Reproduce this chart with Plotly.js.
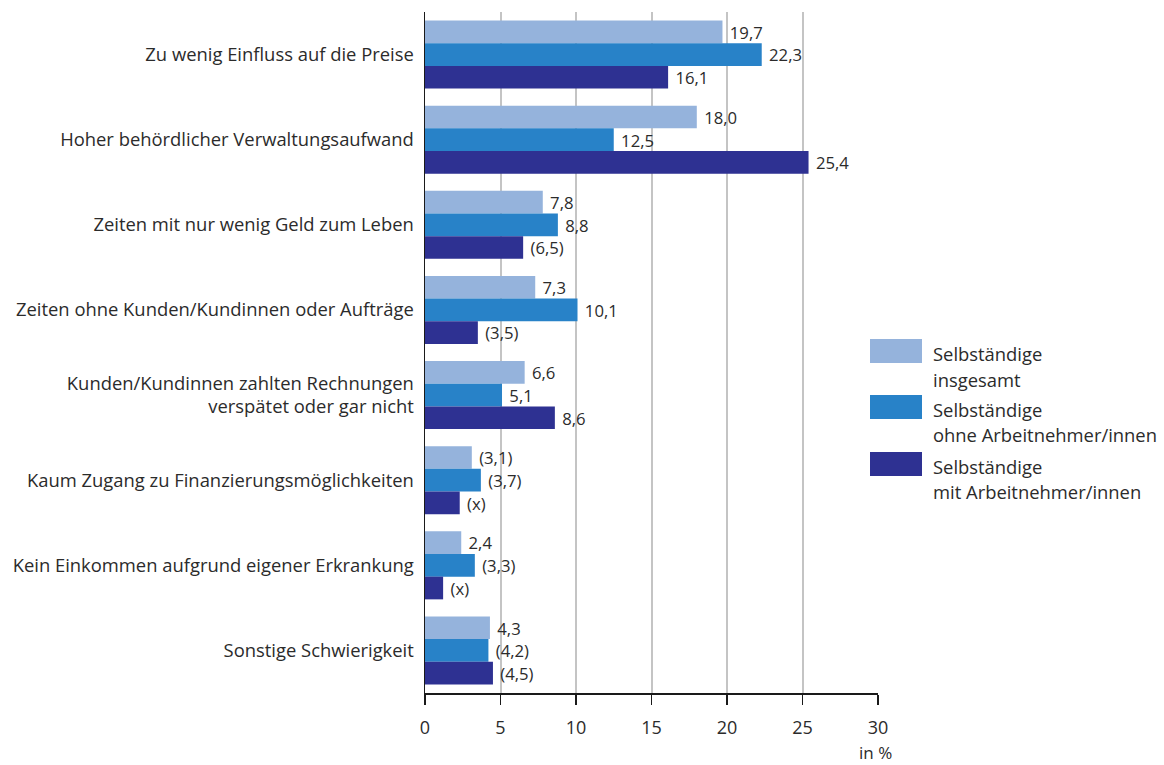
<!DOCTYPE html>
<html>
<head>
<meta charset="utf-8">
<script src="https://cdn.plot.ly/plotly-3.0.1.min.js"></script>
<style>
  html, body { margin: 0; padding: 0; background: #ffffff; }
  #chart { width: 1164px; height: 765px; }
</style>
</head>
<body>
<div id="chart"></div>
<script>
// Schwierigkeiten in der Selbständigkeit, Anteile in %
const categories = [
  "Zu wenig Einfluss auf die Preise",
  "Hoher behördlicher Verwaltungsaufwand",
  "Zeiten mit nur wenig Geld zum Leben",
  "Zeiten ohne Kunden/Kundinnen oder Aufträge",
  "Kunden/Kundinnen zahlten Rechnungen<br>verspätet oder gar nicht",
  "Kaum Zugang zu Finanzierungsmöglichkeiten",
  "Kein Einkommen aufgrund eigener Erkrankung",
  "Sonstige Schwierigkeit"
];

const seriesNames = [
  "Selbständige<br>insgesamt",
  "Selbständige<br>ohne Arbeitnehmer/innen",
  "Selbständige<br>mit Arbeitnehmer/innen"
];

const insgesamt       = [19.7, 18.0, 7.8, 7.3, 6.6, 3.1, 2.4, 4.3];
const ohneAN          = [22.3, 12.5, 8.8, 10.1, 5.1, 3.7, 3.3, 4.2];
const mitAN           = [16.1, 25.4, 6.5, 3.5, 8.6, 2.3, 1.2, 4.5];

const insgesamtLabels = ["19,7", "18,0", "7,8", "7,3", "6,6", "(3,1)", "2,4", "4,3"];
const ohneANLabels    = ["22,3", "12,5", "8,8", "10,1", "5,1", "(3,7)", "(3,3)", "(4,2)"];
const mitANLabels     = ["16,1", "25,4", "(6,5)", "(3,5)", "8,6", "(x)", "(x)", "(4,5)"];

const colors = ["#95b3dc", "#2882c8", "#2e3192"];
const textColor = "#2b2b2b";
const fontFamily = "'Open Sans', 'Noto Sans', sans-serif";
const fontSize = 18.4;

const seriesValues = [insgesamt, ohneAN, mitAN];
const seriesLabels = [insgesamtLabels, ohneANLabels, mitANLabels];

const traces = seriesValues.map((vals, i) => ({
  type: "bar",
  orientation: "h",
  name: seriesNames[i],
  y: categories,
  x: vals,
  text: seriesLabels[i],
  texttemplate: "\u00a0%{text}",
  textposition: "outside",
  cliponaxis: false,
  textfont: { family: fontFamily, size: fontSize, color: textColor },
  marker: { color: colors[i], line: { width: 0 } },
  hoverinfo: "skip",
  showlegend: false
}));

// Plot area in pixels, used to place the hand-drawn legend in paper units
const plotLeft = 425, plotRight = 878, plotTop = 12, plotBottom = 693;
const px = x => (x - plotLeft) / (plotRight - plotLeft);
const py = y => (plotBottom - y) / (plotBottom - plotTop);

// Legend: colour swatch plus a two-line caption per series
const legendShapes = [];
const legendNotes = [];
const swatchTop = [339, 395, 452];
seriesNames.forEach((name, i) => {
  legendShapes.push({
    type: "rect", xref: "paper", yref: "paper",
    x0: px(870), x1: px(922),
    y0: py(swatchTop[i] + 24), y1: py(swatchTop[i]),
    fillcolor: colors[i], line: { width: 0 }
  });
  name.split("<br>").forEach((line, j) => {
    legendNotes.push({
      xref: "paper", yref: "paper",
      x: px(931), y: py(swatchTop[i] + 14 + 26 * j),
      xanchor: "left", yanchor: "middle", align: "left",
      text: line, showarrow: false,
      font: { family: fontFamily, size: fontSize, color: textColor }
    });
  });
});

// Unit note under the right end of the x axis
legendNotes.push({
  xref: "paper", yref: "paper",
  x: px(893), y: 0, yshift: -72,
  xanchor: "right", yanchor: "bottom",
  borderpad: 0,
  text: "in %", showarrow: false,
  font: { family: fontFamily, size: 17, color: textColor }
});

const layout = {
  width: 1164,
  height: 765,
  margin: { l: plotLeft, r: 1164 - plotRight, t: plotTop, b: 765 - plotBottom, pad: 0 },
  paper_bgcolor: "#ffffff",
  plot_bgcolor: "#ffffff",
  barmode: "group",
  bargap: 0.2,
  bargroupgap: 0,
  showlegend: false,
  font: { family: fontFamily, size: fontSize, color: textColor },
  xaxis: {
    range: [0, 30],
    dtick: 5,
    tick0: 0,
    showgrid: true,
    gridcolor: "#c4c4c4",
    gridwidth: 2,
    zeroline: false,
    showline: true,
    linecolor: "#1a1a1a",
    linewidth: 1.5,
    ticks: "outside",
    ticklen: 10,
    tickwidth: 1.5,
    tickcolor: "#1a1a1a",
    ticklabelstandoff: 8,
    tickfont: { family: fontFamily, size: 18, color: textColor },
    fixedrange: true
  },
  yaxis: {
    autorange: "reversed",
    showline: true,
    linecolor: "#1a1a1a",
    linewidth: 1.5,
    showgrid: false,
    zeroline: false,
    ticks: "",
    ticklabelstandoff: 6,
    tickfont: { family: fontFamily, size: fontSize, color: textColor },
    fixedrange: true
  },
  shapes: legendShapes,
  annotations: legendNotes
};

Plotly.newPlot("chart", traces, layout, { displayModeBar: false, staticPlot: true });
</script>
</body>
</html>
